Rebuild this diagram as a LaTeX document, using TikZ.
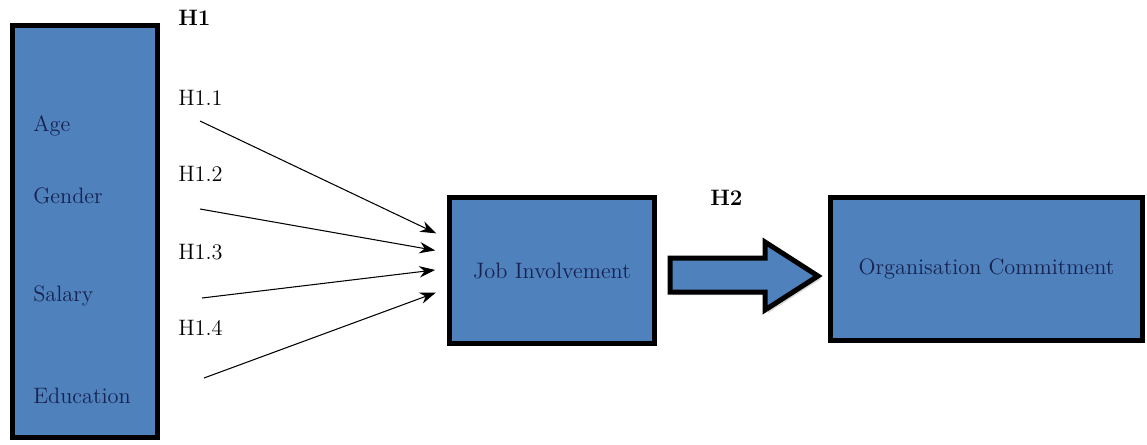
\documentclass[tikz,border=0pt]{standalone}
\usetikzlibrary{shapes, positioning, calc, shadows, arrows.meta}

\definecolor{boxblue}{RGB}{79,129,189}
\definecolor{boxtext}{RGB}{22,34,80}

\begin{document}
\begin{tikzpicture}[x=0.02cm, y=-0.02cm, font=\fontsize{12.7}{15}\selectfont]
  \newcommand\boxlinewidth{0.1cm} % 5px border
  \newcommand\arrowgap{0.24cm}
  \tikzset{
    varbox/.style={draw, fill=boxblue, line width=\boxlinewidth, text=boxtext,
      drop shadow={shadow xshift=0.06cm, shadow yshift=-0.06cm, fill=black!30, opacity=0.5}},
    hlabel/.style={anchor=west, inner sep=0pt},
    hyparrow/.style={-{Stealth[length=9pt, width=6.5pt]}, line width=0.6pt, shorten >=\arrowgap}
  }

  \useasboundingbox (0,0) rectangle (1147,444);

  % boxes
  \node[varbox, minimum width=2.9cm, minimum height=8.24cm] at (85,231.5) (demo) {};
  \node[varbox, minimum width=4.1cm, minimum height=2.92cm] at (552,270.5) (job) {Job Involvement};
  \node[varbox, minimum width=6.24cm, minimum height=2.86cm] at (986.5,269) (org) {Organisation Commitment};

  \node[hlabel, font=\fontsize{12.7}{15}\selectfont\bfseries] at (178,18) (h1) {H1};
  \node[hlabel, font=\fontsize{12.7}{15}\selectfont\bfseries] at (710,198) (h2) {H2};

  \foreach \var/\vary/\hyp/\hypy/\tx/\ty/\dy [count=\i] in {Age/126/H1.1/98/200/121/-32, Gender/196/H1.2/174/200/209/-18, Salary/296/H1.3/252/202/298/-2, Education/396/H1.4/328/204/378/18}{
    \node[hlabel, text=boxtext] at (33,\vary) (v\i) {\var};
    \node[hlabel] at (178,\hypy) (h1-\i) {\hyp};
    \coordinate (t\i) at (\tx,\ty);
    \draw[hyparrow] (t\i) -- ([yshift=-\dy*0.02cm]job.west);
  }

  % block arrow H2
  \draw[fill=boxblue, line width=\boxlinewidth, line join=miter,
      drop shadow={shadow xshift=0.06cm, shadow yshift=-0.06cm, fill=black!30, opacity=0.5}]
    (670,258) -- (765,258) -- (765,242) -- (818,276) -- (765,310) -- (765,292) -- (670,292) -- cycle;
\end{tikzpicture}
\end{document}
